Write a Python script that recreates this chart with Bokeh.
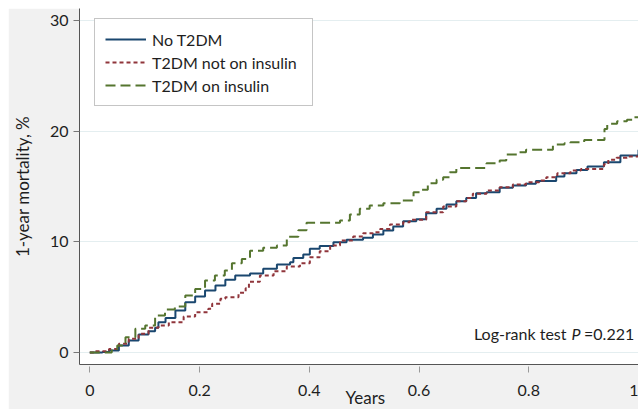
from bokeh.plotting import figure
from bokeh.models import Range1d, Legend, LegendItem, Label, Title
from bokeh.embed import file_html
from bokeh.resources import INLINE

# ---- data ----
years_ticks = [0, 0.2, 0.4, 0.6, 0.8, 1.0]
mort_ticks = [0, 10, 20, 30]

no_t2dm_t = [0, 0.023, 0.035, 0.053, 0.071, 0.089, 0.107, 0.119, 0.125, 0.138, 0.156, 0.174, 0.192,
             0.210, 0.229, 0.247, 0.265, 0.292, 0.316, 0.341, 0.365, 0.371, 0.389, 0.401, 0.419,
             0.444, 0.468, 0.498, 0.516, 0.535, 0.553, 0.571, 0.595, 0.613, 0.632, 0.650, 0.668,
             0.686, 0.704, 0.723, 0.747, 0.771, 0.795, 0.813, 0.850, 0.865, 0.887, 0.907, 0.937,
             0.967, 1.0]
no_t2dm_v = [0, 0.05, 0.18, 0.63, 1.08, 1.63, 1.93, 2.23, 2.74, 3.13, 3.79, 4.54, 5.06,
             5.60, 6.05, 6.57, 6.96, 7.13, 7.56, 7.95, 8.16, 8.55, 8.85, 9.37, 9.62,
             9.96, 10.18, 10.36, 10.66, 11.02, 11.38, 11.86, 12.05, 12.58, 12.98, 13.37, 13.67,
             13.97, 14.39, 14.48, 14.88, 15.09, 15.24, 15.50, 15.90, 16.20, 16.50, 16.80, 17.19,
             17.80, 18.31]

not_ins_t = [0, 0.010, 0.035, 0.053, 0.071, 0.089, 0.107, 0.125, 0.144, 0.171, 0.192, 0.216,
             0.223, 0.238, 0.247, 0.271, 0.284, 0.290, 0.310, 0.335, 0.359, 0.383, 0.401, 0.419,
             0.438, 0.456, 0.480, 0.498, 0.516, 0.529, 0.547, 0.571, 0.583, 0.613, 0.644, 0.668,
             0.686, 0.698, 0.723, 0.747, 0.771, 0.795, 0.819, 0.832, 0.852, 0.876, 0.895, 0.937,
             0.945, 0.960, 0.979, 1.0]
not_ins_v = [0, 0.12, 0.33, 0.79, 1.24, 1.69, 2.23, 2.44, 2.74, 3.25, 3.64, 3.95,
             4.40, 4.85, 5.00, 5.40, 5.80, 6.40, 6.96, 7.35, 7.77, 8.07, 8.61, 9.15,
             9.67, 10.12, 10.48, 10.78, 10.87, 11.17, 11.56, 11.77, 11.99, 12.67, 13.19, 13.67,
             13.97, 14.34, 14.63, 14.93, 15.18, 15.38, 15.54, 15.84, 16.20, 16.44, 16.59, 17.00,
             17.41, 17.60, 17.71, 17.75]

ins_t = [0, 0.040, 0.050, 0.065, 0.083, 0.101, 0.119, 0.137, 0.155, 0.174, 0.192, 0.210, 0.228,
         0.246, 0.259, 0.277, 0.292, 0.316, 0.341, 0.359, 0.380, 0.395, 0.456, 0.474, 0.492,
         0.510, 0.535, 0.565, 0.590, 0.601, 0.616, 0.632, 0.644, 0.656, 0.668, 0.723, 0.747,
         0.759, 0.783, 0.795, 0.844, 0.865, 0.876, 0.901, 0.938, 0.943, 0.961, 0.979, 0.992, 1.0]
ins_v = [0, 0.30, 0.63, 1.38, 2.14, 2.44, 3.34, 3.88, 4.16, 5.15, 5.75, 6.50, 6.96,
         7.41, 8.07, 8.46, 9.20, 9.46, 9.67, 10.45, 11.05, 11.72, 11.92, 12.47, 12.98,
         13.28, 13.49, 13.73, 14.48, 14.70, 15.29, 15.60, 15.84, 16.29, 16.68, 17.10, 17.34,
         17.89, 18.09, 18.31, 18.79, 18.91, 19.00, 19.21, 20.20, 20.66, 20.90, 21.02, 21.26, 21.26]

series_names = ["No T2DM", "T2DM not on insulin", "T2DM on insulin"]
logrank_p = "0.221"

FONT = "Lato"
DARK = "#1e1e1e"

p = figure(width=630, height=401, output_backend="svg", toolbar_location=None,
           x_range=Range1d(-0.0188, 1.0), y_range=Range1d(-1.08, 31.08),
           min_border_left=71, min_border_right=0, min_border_top=0, min_border_bottom=45)
p.margin = (8, 0, 0, 8)
p.border_fill_color = "#f1f1f1"
p.background_fill_color = "white"
p.outline_line_color = None

r1 = p.step(no_t2dm_t, no_t2dm_v, mode="after", line_color="#1a476f", line_width=2)
r2 = p.step(not_ins_t, not_ins_v, mode="after", line_color="#90353b", line_width=2, line_dash="4 3")
r3 = p.step(ins_t, ins_v, mode="after", line_color="#55752f", line_width=2, line_dash="10 5")

legend = Legend(items=[LegendItem(label=series_names[0], renderers=[r1]),
                       LegendItem(label=series_names[1], renderers=[r2]),
                       LegendItem(label=series_names[2], renderers=[r3])],
                location=(15, 258), orientation="vertical")
legend.margin = 0
legend.padding = 10
legend.spacing = 3
legend.glyph_width = 41
legend.glyph_height = 20
legend.label_height = 20
legend.label_width = 150
legend.label_standoff = 6
legend.label_text_font = FONT
legend.label_text_font_size = "16px"
legend.label_text_color = DARK
legend.border_line_color = "#8c8c8c"
legend.border_line_width = 1
legend.background_fill_color = "white"
legend.background_fill_alpha = 1
p.add_layout(legend, "center")

# grid
p.xgrid.visible = False
p.ygrid.ticker = mort_ticks
p.ygrid.grid_line_color = "#e4eef0"
p.ygrid.grid_line_width = 1

# y axis
ya = p.yaxis[0]
ya.ticker = mort_ticks
ya.axis_label = "1-year mortality, %"
ya.axis_label_text_font = FONT
ya.axis_label_text_font_style = "normal"
ya.axis_label_text_font_size = "17px"
ya.axis_label_text_color = DARK
ya.axis_label_standoff = 14
ya.major_label_text_font = FONT
ya.major_label_text_font_size = "16px"
ya.major_label_text_color = DARK
ya.major_label_standoff = 5
ya.major_tick_out = 6
ya.major_tick_in = 0
ya.minor_tick_out = 0
ya.minor_tick_in = 0
ya.axis_line_color = "#555555"
ya.major_tick_line_color = "#777777"

# x axis
xa = p.xaxis[0]
xa.ticker = years_ticks
xa.major_label_overrides = {0: "0", 1: "1"}
xa.major_label_text_font = FONT
xa.major_label_text_font_size = "16px"
xa.major_label_text_color = DARK
xa.major_label_standoff = 12
xa.major_tick_out = 8
xa.major_tick_in = -2
xa.minor_tick_out = 0
xa.minor_tick_in = 0
xa.axis_line_color = "#555555"
xa.major_tick_line_color = "#999999"

# x axis title, slightly right of centre as in the reference
p.add_layout(Title(text="Years", align="left", offset=266, standoff=-24, vertical_align="top",
                   text_font=FONT, text_font_size="17px", text_font_style="normal",
                   text_color=DARK), "below")

# log-rank annotation (right-aligned pieces)
p.add_layout(Label(x=0.8688, y=0.85, text="Log-rank test", text_align="right",
                   text_font=FONT, text_font_size="16px", text_color=DARK))
p.add_layout(Label(x=0.8943, y=0.85, text="P", text_align="right", text_font_style="italic",
                   text_font=FONT, text_font_size="16px", text_color=DARK))
p.add_layout(Label(x=0.9922, y=0.85, text="=" + logrank_p, text_align="right",
                   text_font=FONT, text_font_size="16px", text_color=DARK))

open("out.html", "w").write(file_html(p, INLINE))
